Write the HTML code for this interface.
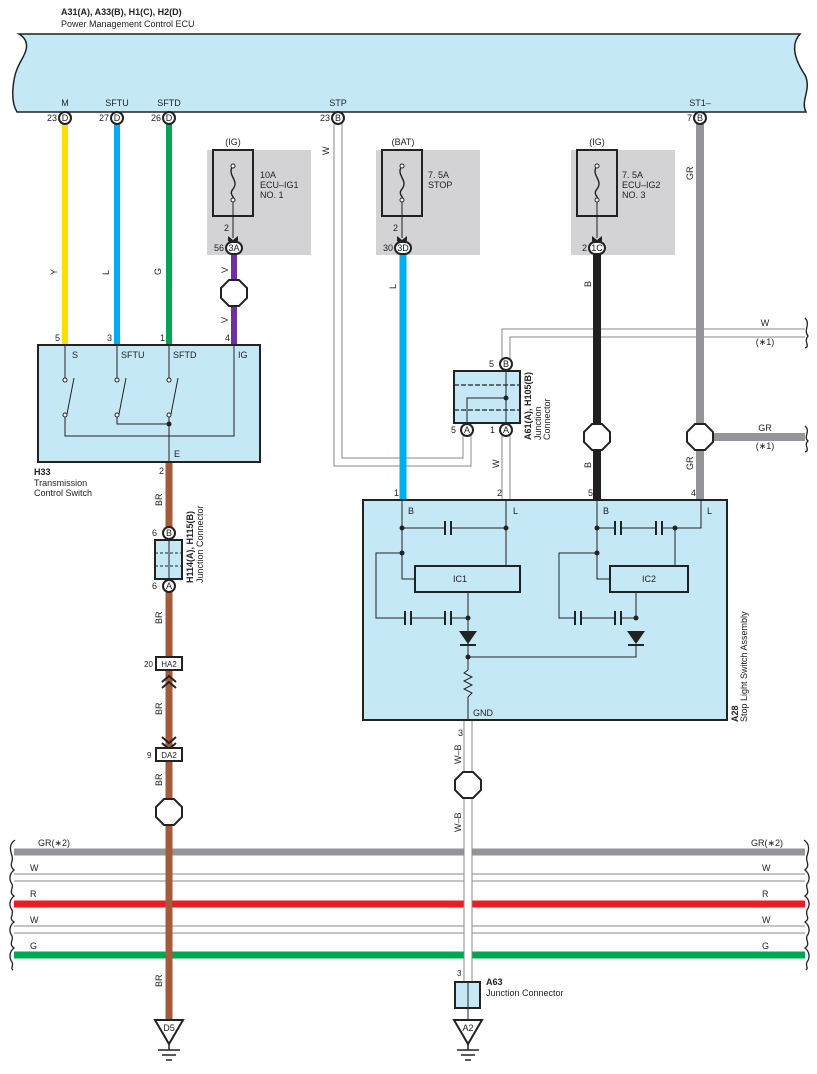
<!DOCTYPE html>
<html><head><meta charset="utf-8"><style>
html,body{margin:0;padding:0;background:#fff}
svg{display:block}
text{font-family:"Liberation Sans",sans-serif;font-size:9px;fill:#222}
.b{font-weight:bold}
.pin{font-size:8px}
</style></head><body>
<svg width="817" height="1074" viewBox="0 0 817 1074" xmlns="http://www.w3.org/2000/svg">
<!-- ECU -->
<text x="61" y="15" class="b" font-size="9.5">A31(A), A33(B), H1(C), H2(D)</text>
<text x="61" y="27">Power Management Control ECU</text>
<path d="M19,34 L800,34 C790,45 795,60 805,75 C812,90 800,100 806,112 L17,112 C12,104 12,92 14,80 C16,66 24,58 26,50 C28,42 24,37 19,34 Z" fill="#c5e8f7" stroke="#222" stroke-width="1.5"/>
<g text-anchor="middle">
<text x="65" y="106">M</text><text x="117" y="106">SFTU</text><text x="169" y="106">SFTD</text><text x="338" y="106">STP</text><text x="700" y="106">ST1–</text>
</g>

<!-- fuse boxes -->
<g fill="#d3d3d5">
<rect x="207" y="150" width="104" height="105"/>
<rect x="376" y="150" width="104" height="105"/>
<rect x="571" y="150" width="104" height="105"/>
</g>
<g fill="none" stroke="#222" stroke-width="2">
<rect x="213" y="150" width="40" height="66"/>
<rect x="382" y="150" width="40" height="66"/>
<rect x="577" y="150" width="40" height="66"/>
</g>
<g fill="none" stroke="#222" stroke-width="1.4">
<path d="M233,166 C226,175 240,180 233,189 C228,195 236,197 233,200"/>
<path d="M402,166 C395,175 409,180 402,189 C397,195 405,197 402,200"/>
<path d="M597,166 C590,175 604,180 597,189 C592,195 600,197 597,200"/>
</g>
<g fill="none" stroke="#222" stroke-width="1">
<line x1="233" y1="200" x2="233" y2="238"/><line x1="402" y1="200" x2="402" y2="238"/><line x1="597" y1="200" x2="597" y2="238"/>
</g>
<g fill="#fff" stroke="#222" stroke-width="1">
<circle cx="233" cy="166" r="2"/><circle cx="233" cy="200" r="2"/>
<circle cx="402" cy="166" r="2"/><circle cx="402" cy="200" r="2"/>
<circle cx="597" cy="166" r="2"/><circle cx="597" cy="200" r="2"/>
</g>
<g fill="#222">
<path d="M228,236 L233,240 L238,236 L238,241 L233,245 L228,241 Z"/>
<path d="M397,236 L402,240 L407,236 L407,241 L402,245 L397,241 Z"/>
<path d="M592,236 L597,240 L602,236 L602,241 L597,245 L592,241 Z"/>
</g>
<g text-anchor="middle"><text x="233" y="145">(IG)</text><text x="403" y="145">(BAT)</text><text x="597" y="145">(IG)</text></g>
<text x="260" y="178">10A</text><text x="260" y="188">ECU–IG1</text><text x="260" y="198">NO. 1</text>
<text x="428" y="178">7. 5A</text><text x="428" y="188">STOP</text>
<text x="622" y="178">7. 5A</text><text x="622" y="188">ECU–IG2</text><text x="622" y="198">NO. 3</text>
<text x="224" y="231">2</text><text x="393" y="231">2</text>

<!-- horizontal bus -->
<line x1="14" y1="852" x2="805" y2="852" stroke="#949599" stroke-width="7"/>
<line x1="14" y1="874" x2="805" y2="874" stroke="#888" stroke-width="1"/>
<line x1="14" y1="881" x2="805" y2="881" stroke="#888" stroke-width="1"/>
<line x1="14" y1="904" x2="805" y2="904" stroke="#ed1c24" stroke-width="7"/>
<line x1="14" y1="926" x2="805" y2="926" stroke="#888" stroke-width="1"/>
<line x1="14" y1="933" x2="805" y2="933" stroke="#888" stroke-width="1"/>
<line x1="14" y1="955" x2="805" y2="955" stroke="#00a651" stroke-width="7"/>
<g fill="none" stroke="#222" stroke-width="1.3">
<path d="M15,840 C9,844 10,850 12,856 C14,862 8,864 14,870 C9,874 9,880 12,884 C14,888 8,892 14,896 C9,900 9,906 12,910 C14,916 8,918 14,922 C9,926 9,932 12,936 C14,940 8,944 14,948 C9,952 9,958 12,962 C14,966 10,968 13,970"/>
<path d="M804,840 C810,844 809,850 807,856 C805,862 811,864 805,870 C810,874 810,880 807,884 C805,888 811,892 805,896 C810,900 810,906 807,910 C805,916 811,918 805,922 C810,926 810,932 807,936 C805,940 811,944 805,948 C810,952 810,958 807,962 C805,966 809,968 806,970"/>
<path d="M805,318 C811,324 803,330 808,336 C803,342 811,346 805,348"/>
<path d="M805,426 C811,431 803,437 808,441 C803,445 811,450 805,452"/>
</g>
<g font-size="8">
<text x="38" y="846">GR(∗2)</text><text x="751" y="846">GR(∗2)</text>
<text x="30" y="871">W</text><text x="762" y="871">W</text>
<text x="30" y="897">R</text><text x="762" y="897">R</text>
<text x="30" y="923">W</text><text x="762" y="923">W</text>
<text x="30" y="949">G</text><text x="762" y="949">G</text>
</g>

<!-- left wires -->
<line x1="65" y1="124" x2="65" y2="345" stroke="#ffde00" stroke-width="6"/>
<line x1="117" y1="124" x2="117" y2="345" stroke="#00aeef" stroke-width="6"/>
<line x1="169" y1="124" x2="169" y2="345" stroke="#00a651" stroke-width="6"/>
<line x1="234" y1="254" x2="234" y2="345" stroke="#7030a0" stroke-width="6"/>
<!-- brown -->
<line x1="169" y1="462" x2="169" y2="1020" stroke="#a55a3a" stroke-width="7"/>

<!-- STP white wire -->
<g fill="none" stroke="#888" stroke-width="1">
<path d="M334,124 L334,466 L471,466 L471,430"/>
<path d="M342,124 L342,458 L463,458 L463,430"/>
<path d="M502,364 L502,329 L805,329"/>
<path d="M510,364 L510,337 L805,337"/>
<path d="M502,430 L502,500"/>
<path d="M510,430 L510,500"/>
<path d="M464,720 L464,982"/>
<path d="M472,720 L472,982"/>
</g>
<line x1="468" y1="720" x2="468" y2="982" stroke="#fff" stroke-width="7"/>
<line x1="403" y1="254" x2="403" y2="500" stroke="#00aeef" stroke-width="7"/>
<line x1="597" y1="254" x2="597" y2="500" stroke="#231f20" stroke-width="8"/>
<line x1="700" y1="124" x2="700" y2="500" stroke="#949599" stroke-width="8"/>
<line x1="700" y1="437" x2="805" y2="437" stroke="#949599" stroke-width="8"/>
<g font-size="8"><text x="765" y="326" text-anchor="middle">W</text><text x="765" y="345" text-anchor="middle">(∗1)</text>
<text x="765" y="431" text-anchor="middle">GR</text><text x="765" y="449" text-anchor="middle">(∗1)</text></g>

<!-- ECU pins -->
<g fill="#fff" stroke="#222" stroke-width="2">
<circle cx="65" cy="118" r="6"/><circle cx="117" cy="118" r="6"/><circle cx="169" cy="118" r="6"/><circle cx="338" cy="118" r="6"/><circle cx="700" cy="118" r="6"/>
<rect x="226" y="242" width="16" height="12" rx="6"/><rect x="395" y="242" width="16" height="12" rx="6"/><rect x="589" y="242" width="16" height="12" rx="6"/>
</g>
<g text-anchor="middle" class="pin">
<text x="65" y="121">D</text><text x="117" y="121">D</text><text x="169" y="121">D</text><text x="338" y="121">B</text><text x="700" y="121">B</text>
<text x="234" y="251">3A</text><text x="403" y="251">3D</text><text x="597" y="251">1C</text>
</g>
<g text-anchor="end" class="pin">
<text x="57" y="121">23</text><text x="109" y="121">27</text><text x="161" y="121">26</text><text x="330" y="121">23</text><text x="692" y="121">7</text>
<text x="224" y="251">56</text><text x="393" y="251">30</text><text x="587" y="251">2</text>
</g>

<!-- H33 -->
<rect x="38" y="345" width="222" height="117" fill="#c5e8f7" stroke="#222" stroke-width="2"/>
<g fill="none" stroke="#222" stroke-width="1">
<path d="M65,345 L65,378 M65,416 L65,436 L234,436 L234,345"/>
<path d="M117,345 L117,378 M117,416 L117,424 L169,424"/>
<path d="M169,345 L169,378 M169,416 L169,462"/>
<path d="M67,414 L74,378 M119,414 L126,378 M171,414 L178,378"/>
</g>
<g fill="#fff" stroke="#222" stroke-width="1">
<circle cx="65" cy="380" r="2"/><circle cx="65" cy="415" r="2"/>
<circle cx="117" cy="380" r="2"/><circle cx="117" cy="415" r="2"/>
<circle cx="169" cy="380" r="2"/><circle cx="169" cy="415" r="2"/>
</g>
<circle cx="169" cy="424" r="2.5" fill="#222"/>
<text x="72" y="358">S</text><text x="121" y="358">SFTU</text><text x="173" y="358">SFTD</text><text x="238" y="358">IG</text><text x="174" y="457">E</text>
<g class="pin"><text x="55" y="341">5</text><text x="107" y="341">3</text><text x="160" y="341">1</text><text x="225" y="341">4</text><text x="159" y="474">2</text></g>
<text x="34" y="475" class="b">H33</text><text x="34" y="486">Transmission</text><text x="34" y="496">Control Switch</text>

<!-- H114 junction -->
<rect x="155" y="540" width="27" height="39" fill="#c5e8f7" stroke="#222" stroke-width="2"/>
<g stroke="#222" stroke-width="1" stroke-dasharray="3,2"><line x1="155" y1="553" x2="182" y2="553"/><line x1="155" y1="566" x2="182" y2="566"/></g>
<line x1="169" y1="540" x2="169" y2="579" stroke="#222" stroke-width="1"/>
<g fill="#fff" stroke="#222" stroke-width="2"><circle cx="169" cy="533" r="6"/><circle cx="169" cy="586" r="6"/></g>
<g text-anchor="middle" class="pin"><text x="169" y="536">B</text><text x="169" y="589">A</text></g>
<g class="pin"><text x="152" y="536">6</text><text x="152" y="589">6</text></g>
<text transform="translate(193,583) rotate(-90)" class="b" font-size="8.5">H114(A), H115(B)</text>
<text transform="translate(203,583) rotate(-90)" font-size="8.5">Junction Connector</text>

<!-- HA2 / DA2 -->
<rect x="156" y="657" width="26" height="13" fill="#fff" stroke="#222" stroke-width="2"/>
<text x="169" y="667" text-anchor="middle" class="pin">HA2</text><text x="144" y="667" class="pin">20</text>
<path d="M162,682 L169,676 L176,682 M162,688 L169,682 L176,688" fill="none" stroke="#222" stroke-width="2"/>
<path d="M162,737 L169,743 L176,737 M162,743 L169,749 L176,743" fill="none" stroke="#222" stroke-width="2"/>
<rect x="156" y="748" width="26" height="13" fill="#fff" stroke="#222" stroke-width="2"/>
<text x="169" y="758" text-anchor="middle" class="pin">DA2</text><text x="147" y="758" class="pin">9</text>

<!-- A61 junction -->
<rect x="454" y="371" width="66" height="52" fill="#c5e8f7" stroke="#222" stroke-width="2"/>
<g stroke="#222" stroke-width="1.3" stroke-dasharray="5,2"><line x1="454" y1="385" x2="520" y2="385"/><line x1="454" y1="410" x2="520" y2="410"/></g>
<path d="M506,371 L506,423 M467,423 L467,398 L506,398" fill="none" stroke="#222" stroke-width="1"/>
<circle cx="506" cy="398" r="2.5" fill="#222"/>
<g fill="#fff" stroke="#222" stroke-width="2"><circle cx="506" cy="364" r="6"/><circle cx="467" cy="430" r="6"/><circle cx="506" cy="430" r="6"/></g>
<g text-anchor="middle" class="pin"><text x="506" y="367">B</text><text x="467" y="433">A</text><text x="506" y="433">A</text></g>
<g class="pin"><text x="489" y="367">5</text><text x="451" y="433">5</text><text x="490" y="433">1</text></g>
<text transform="translate(531,440) rotate(-90)" class="b" font-size="8.5">A61(A), H105(B)</text>
<text transform="translate(541,440) rotate(-90)" font-size="8.5">Junction</text>
<text transform="translate(550,440) rotate(-90)" font-size="8.5">Connector</text>

<!-- A28 -->
<rect x="363" y="500" width="364" height="220" fill="#c5e8f7" stroke="#222" stroke-width="2"/>
<g class="pin"><text x="394" y="496">1</text><text x="497" y="496">2</text><text x="588" y="496">5</text><text x="691" y="496">4</text><text x="458" y="736">3</text></g>
<text x="408" y="514">B</text><text x="513" y="514">L</text><text x="603" y="514">B</text><text x="707" y="514">L</text><text x="473" y="716">GND</text>
<g fill="none" stroke="#222" stroke-width="1">
<path d="M402,500 L402,579 L415,579"/>
<path d="M402,528 L444,528 M452,528 L506,528"/>
<path d="M506,500 L506,566"/>
<path d="M402,553 L376,553 L376,618 L404,618 M412,618 L444,618 M452,618 L468,618"/>
<path d="M468,592 L468,670 M468,697 L468,720"/>
<path d="M468,670 L464,673 L472,677 L464,681 L472,685 L464,689 L472,693 L468,697"/>
<path d="M468,657 L636,657 L636,645"/>
<path d="M597,500 L597,579 L610,579"/>
<path d="M597,528 L614,528 M622,528 L655,528 M663,528 L701,528 L701,500"/>
<path d="M675,528 L675,566"/>
<path d="M597,553 L559,553 L559,618 L574,618 M582,618 L614,618 M622,618 L636,618 L636,592"/>
</g>
<g stroke="#222" stroke-width="2">
<line x1="445" y1="521" x2="445" y2="535"/><line x1="451" y1="521" x2="451" y2="535"/>
<line x1="405" y1="611" x2="405" y2="625"/><line x1="411" y1="611" x2="411" y2="625"/>
<line x1="445" y1="611" x2="445" y2="625"/><line x1="451" y1="611" x2="451" y2="625"/>
<line x1="615" y1="521" x2="615" y2="535"/><line x1="621" y1="521" x2="621" y2="535"/>
<line x1="656" y1="521" x2="656" y2="535"/><line x1="662" y1="521" x2="662" y2="535"/>
<line x1="575" y1="611" x2="575" y2="625"/><line x1="581" y1="611" x2="581" y2="625"/>
<line x1="615" y1="611" x2="615" y2="625"/><line x1="621" y1="611" x2="621" y2="625"/>
<line x1="460" y1="645" x2="476" y2="645"/><line x1="628" y1="645" x2="644" y2="645"/>
</g>
<path d="M459,631 L477,631 L468,644 Z M627,631 L645,631 L636,644 Z" fill="#222"/>
<g fill="#c5e8f7" stroke="#222" stroke-width="2">
<rect x="415" y="566" width="105" height="26"/><rect x="610" y="566" width="78" height="26"/>
</g>
<text x="460" y="582" text-anchor="middle">IC1</text><text x="649" y="582" text-anchor="middle">IC2</text>
<g fill="#222"><circle cx="402" cy="528" r="2.5"/><circle cx="506" cy="528" r="2.5"/><circle cx="402" cy="553" r="2.5"/><circle cx="468" cy="618" r="2.5"/><circle cx="468" cy="657" r="2.5"/>
<circle cx="597" cy="528" r="2.5"/><circle cx="675" cy="528" r="2.5"/><circle cx="597" cy="553" r="2.5"/><circle cx="636" cy="618" r="2.5"/></g>
<text transform="translate(738,722) rotate(-90)" class="b" font-size="8.5">A28</text>
<text transform="translate(747,722) rotate(-90)" font-size="8.5">Stop Light Switch Assembly</text>

<!-- octagons -->
<g fill="#fff" stroke="#222" stroke-width="2">
<polygon points="229,280 239,280 247,288 247,298 239,306 229,306 221,298 221,288"/>
<polygon points="592,424 602,424 610,432 610,442 602,450 592,450 584,442 584,432"/>
<polygon points="695,424 705,424 713,432 713,442 705,450 695,450 687,442 687,432"/>
<polygon points="164,799 174,799 182,807 182,817 174,825 164,825 156,817 156,807"/>
<polygon points="463,772 473,772 481,780 481,790 473,798 463,798 455,790 455,780"/>
</g>

<!-- wire labels -->
<g font-size="8.5">
<text transform="translate(57,275) rotate(-90)">Y</text>
<text transform="translate(109,275) rotate(-90)">L</text>
<text transform="translate(161,275) rotate(-90)">G</text>
<text transform="translate(228,273) rotate(-90)">V</text>
<text transform="translate(228,323) rotate(-90)">V</text>
<text transform="translate(329,155) rotate(-90)">W</text>
<text transform="translate(396,289) rotate(-90)">L</text>
<text transform="translate(591,287) rotate(-90)">B</text>
<text transform="translate(693,180) rotate(-90)">GR</text>
<text transform="translate(499,468) rotate(-90)">W</text>
<text transform="translate(591,468) rotate(-90)">B</text>
<text transform="translate(693,470) rotate(-90)">GR</text>
<text transform="translate(162,506) rotate(-90)">BR</text>
<text transform="translate(162,624) rotate(-90)">BR</text>
<text transform="translate(162,715) rotate(-90)">BR</text>
<text transform="translate(162,786) rotate(-90)">BR</text>
<text transform="translate(162,987) rotate(-90)">BR</text>
<text transform="translate(461,764) rotate(-90)">W–B</text>
<text transform="translate(461,832) rotate(-90)">W–B</text>
</g>

<!-- A63 -->
<text x="457" y="976" class="pin">3</text>
<rect x="455" y="982" width="25" height="26" fill="#c5e8f7" stroke="#222" stroke-width="2"/>
<line x1="468" y1="982" x2="468" y2="1008" stroke="#222" stroke-width="1"/>
<line x1="468" y1="1008" x2="468" y2="1020" stroke="#222" stroke-width="1"/>
<text x="486" y="985" class="b" font-size="8.5">A63</text><text x="486" y="996" font-size="8.5">Junction Connector</text>

<!-- grounds -->
<g fill="#fff" stroke="#222" stroke-width="2">
<polygon points="155,1020 183,1020 169,1044"/>
<polygon points="454,1020 482,1020 468,1044"/>
</g>
<g stroke="#222" stroke-width="1.5">
<line x1="169" y1="1044" x2="169" y2="1050"/><line x1="158" y1="1050" x2="180" y2="1050"/><line x1="162" y1="1055" x2="176" y2="1055"/><line x1="166" y1="1060" x2="172" y2="1060"/>
<line x1="468" y1="1044" x2="468" y2="1050"/><line x1="457" y1="1050" x2="479" y2="1050"/><line x1="461" y1="1055" x2="475" y2="1055"/><line x1="465" y1="1060" x2="471" y2="1060"/>
</g>
<g text-anchor="middle" class="pin"><text x="169" y="1031">D5</text><text x="468" y="1031">A2</text></g>
</svg>
</body></html>
